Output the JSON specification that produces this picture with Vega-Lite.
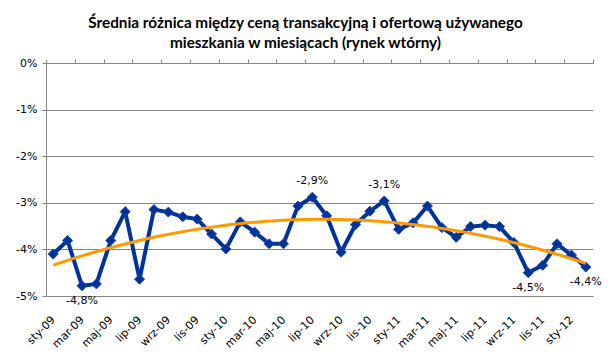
{
  "$schema": "https://vega.github.io/schema/vega-lite/v6.json",
  "autosize": {"type": "none"},
  "width": 547,
  "height": 233,
  "padding": {"left": 46, "top": 63, "right": 17, "bottom": 66},
  "background": "#ffffff",
  "title": {
    "text": ["Średnia różnica między ceną transakcyjną i ofertową używanego", "mieszkania w miesiącach (rynek wtórny)"],
    "font": "Lato",
    "fontSize": 15.3,
    "fontWeight": "bold",
    "color": "#000000",
    "anchor": "middle",
    "dx": -14,
    "offset": 6,
    "lineHeight": 20
  },
  "data": {
    "values": [
      {"i": 1, "m": "sty-09", "v": -4.10, "label": ""},
      {"i": 2, "m": "lut-09", "v": -3.81, "label": ""},
      {"i": 3, "m": "mar-09", "v": -4.78, "label": "-4,8%"},
      {"i": 4, "m": "kwi-09", "v": -4.74, "label": ""},
      {"i": 5, "m": "maj-09", "v": -3.81, "label": ""},
      {"i": 6, "m": "cze-09", "v": -3.19, "label": ""},
      {"i": 7, "m": "lip-09", "v": -4.64, "label": ""},
      {"i": 8, "m": "sie-09", "v": -3.145, "label": ""},
      {"i": 9, "m": "wrz-09", "v": -3.20, "label": ""},
      {"i": 10, "m": "paź-09", "v": -3.30, "label": ""},
      {"i": 11, "m": "lis-09", "v": -3.35, "label": ""},
      {"i": 12, "m": "gru-09", "v": -3.67, "label": ""},
      {"i": 13, "m": "sty-10", "v": -3.99, "label": ""},
      {"i": 14, "m": "lut-10", "v": -3.41, "label": ""},
      {"i": 15, "m": "mar-10", "v": -3.63, "label": ""},
      {"i": 16, "m": "kwi-10", "v": -3.88, "label": ""},
      {"i": 17, "m": "maj-10", "v": -3.88, "label": ""},
      {"i": 18, "m": "cze-10", "v": -3.07, "label": ""},
      {"i": 19, "m": "lip-10", "v": -2.88, "label": "-2,9%"},
      {"i": 20, "m": "sie-10", "v": -3.28, "label": ""},
      {"i": 21, "m": "wrz-10", "v": -4.06, "label": ""},
      {"i": 22, "m": "paź-10", "v": -3.47, "label": ""},
      {"i": 23, "m": "lis-10", "v": -3.18, "label": ""},
      {"i": 24, "m": "gru-10", "v": -2.96, "label": "-3,1%"},
      {"i": 25, "m": "sty-11", "v": -3.57, "label": ""},
      {"i": 26, "m": "lut-11", "v": -3.43, "label": ""},
      {"i": 27, "m": "mar-11", "v": -3.07, "label": ""},
      {"i": 28, "m": "kwi-11", "v": -3.53, "label": ""},
      {"i": 29, "m": "maj-11", "v": -3.74, "label": ""},
      {"i": 30, "m": "cze-11", "v": -3.51, "label": ""},
      {"i": 31, "m": "lip-11", "v": -3.48, "label": ""},
      {"i": 32, "m": "sie-11", "v": -3.51, "label": ""},
      {"i": 33, "m": "wrz-11", "v": -3.85, "label": ""},
      {"i": 34, "m": "paź-11", "v": -4.50, "label": "-4,5%"},
      {"i": 35, "m": "lis-11", "v": -4.34, "label": ""},
      {"i": 36, "m": "gru-11", "v": -3.88, "label": ""},
      {"i": 37, "m": "sty-12", "v": -4.12, "label": ""},
      {"i": 38, "m": "lut-12", "v": -4.38, "label": "-4,4%"}
    ]
  },
  "encoding": {
    "y": {
      "field": "v",
      "type": "quantitative",
      "scale": {"domain": [-5, 0], "nice": false, "zero": false},
      "axis": {
        "title": null,
        "values": [0, -1, -2, -3, -4, -5],
        "labelExpr": "datum.value + '%'",
        "labelFont": "DejaVu Sans",
        "labelFontSize": 11,
        "labelColor": "#000000",
        "labelPadding": 5,
        "tickSize": 4,
        "tickColor": "#868686",
        "domainColor": "#868686",
        "gridColor": "#868686",
        "grid": true,
        "gridOpacity": 1
      }
    }
  },
  "layer": [
    {
      "encoding": {
        "x": {
          "field": "m",
          "type": "ordinal",
          "sort": null,
          "scale": {"type": "point", "padding": 0.5},
          "axis": {
            "title": null,
            "values": ["sty-09", "mar-09", "maj-09", "lip-09", "wrz-09", "lis-09", "sty-10", "mar-10", "maj-10", "lip-10", "wrz-10", "lis-10", "sty-11", "mar-11", "maj-11", "lip-11", "wrz-11", "lis-11", "sty-12"],
            "labelAngle": -45,
            "labelAlign": "right",
            "labelBaseline": "middle",
            "labelFont": "DejaVu Sans",
            "labelFontSize": 11,
            "labelColor": "#000000",
            "labelPadding": 22,
            "ticks": false,
            "domain": false,
            "grid": false
          }
        }
      },
      "layer": [
        {
          "mark": {"type": "line", "color": "#003399", "strokeWidth": 4},
          "encoding": {}
        },
        {
          "mark": {"type": "point", "shape": "diamond", "size": 100, "filled": true, "color": "#003399", "opacity": 1, "stroke": "#1a44a8", "strokeWidth": 1},
          "encoding": {}
        },
        {
          "mark": {"type": "text", "font": "DejaVu Sans", "fontSize": 11, "color": "#000000", "dy": -13, "baseline": "alphabetic"},
          "encoding": {
            "text": {"condition": {"test": "datum.v > -3.5", "field": "label"}, "value": ""}
          }
        },
        {
          "mark": {"type": "text", "font": "DejaVu Sans", "fontSize": 11, "color": "#000000", "dy": 18, "baseline": "alphabetic"},
          "encoding": {
            "text": {"condition": {"test": "datum.v <= -3.5", "field": "label"}, "value": ""}
          }
        }
      ]
    },
    {
      "transform": [
        {"regression": "v", "on": "i", "method": "poly", "order": 2}
      ],
      "mark": {"type": "line", "color": "#FF9900", "strokeWidth": 3},
      "encoding": {
        "x": {
          "field": "i",
          "type": "quantitative",
          "scale": {"domain": [0.5, 38.5], "nice": false, "zero": false},
          "axis": {
            "orient": "top",
            "title": null,
            "values": [0.5, 2.5, 4.5, 6.5, 8.5, 10.5, 12.5, 14.5, 16.5, 18.5, 20.5, 22.5, 24.5, 26.5, 28.5, 30.5, 32.5, 34.5, 36.5, 38.5],
            "labels": false,
            "tickSize": 4,
            "tickColor": "#868686",
            "domainColor": "#868686",
            "grid": false
          }
        }
      }
    }
  ],
  "resolve": {"scale": {"x": "independent"}, "axis": {"x": "independent"}},
  "config": {
    "view": {"stroke": null},
    "axis": {"domainWidth": 1, "tickWidth": 1, "gridWidth": 1}
  }
}
